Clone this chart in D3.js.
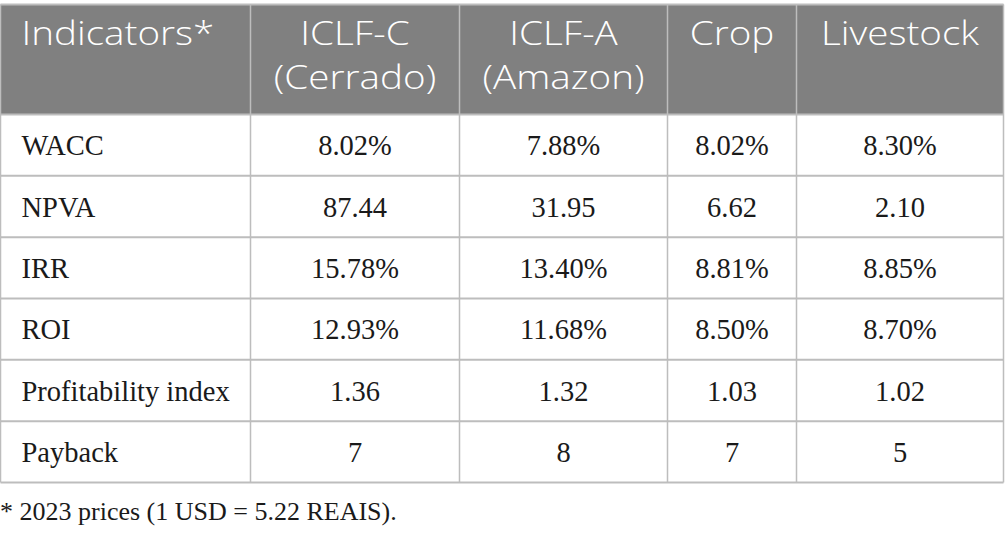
<!DOCTYPE html>
<html>
<head>
<meta charset="utf-8">
<script src="https://cdn.jsdelivr.net/npm/d3@7"></script>
<style>
  html, body { margin: 0; padding: 0; background: #fff; }
  svg { display: block; }
  .serif { font-family: "Liberation Serif", "DejaVu Serif", serif; }
  .sans { font-family: "Open Sans", "Noto Sans", sans-serif; font-weight: 300; }
</style>
</head>
<body>
<div id="chart"></div>
<script>
// table content
var headers = [["Indicators*"], ["ICLF-C", "(Cerrado)"], ["ICLF-A", "(Amazon)"], ["Crop"], ["Livestock"]];
var indicators = ["WACC", "NPVA", "IRR", "ROI", "Profitability index", "Payback"];
var iclfC = ["8.02%", "87.44", "15.78%", "12.93%", "1.36", "7"];
var iclfA = ["7.88%", "31.95", "13.40%", "11.68%", "1.32", "8"];
var crop = ["8.02%", "6.62", "8.81%", "8.50%", "1.03", "7"];
var livestock = ["8.30%", "2.10", "8.85%", "8.70%", "1.02", "5"];
var footnote = "* 2023 prices (1 USD = 5.22 REAIS).";

var series = [iclfC, iclfA, crop, livestock];

var W = 1005, H = 537;
var svg = d3.select("#chart").append("svg")
  .attr("width", W).attr("height", H);

// column edges (px) and row layout
var colEdges = [0.5, 250.5, 459.5, 667.5, 796.5, 1003.5];
var tableTop = 4.5, headBottom = 114.5, tableBottom = 482.5;

var rowScale = d3.scaleBand()
  .domain(indicators)
  .range([headBottom, tableBottom]);

var lineColor = "#bdbdbd";
var headFill = "#808080";

// header background
svg.append("rect")
  .attr("x", colEdges[0]).attr("y", tableTop)
  .attr("width", colEdges[5] - colEdges[0])
  .attr("height", headBottom - tableTop)
  .attr("fill", headFill);

// header text (the original face is wider than Open Sans, so stretch a bit)
var stretch = 1.17;
headers.forEach(function(h, i) {
  var x0 = colEdges[i], x1 = colEdges[i + 1];
  var ax = i == 0 ? x0 + 21 : (x0 + x1) / 2;
  var t = svg.append("text")
    .attr("class", "sans")
    .attr("font-size", "33px")
    .attr("fill", "#ffffff")
    .attr("text-anchor", i == 0 ? "start" : "middle")
    .attr("transform", "translate(" + ax + ",0) scale(" + stretch + ",1)");
  h.forEach(function(line, j) {
    t.append("tspan")
      .attr("x", 0)
      .attr("y", 45 + j * 44)
      .text(line);
  });
});

// horizontal lines
var hLines = [tableTop, headBottom].concat(indicators.map(function(d) { return rowScale(d) + rowScale.bandwidth(); }));
svg.selectAll(".hline")
  .data(hLines)
  .enter()
  .append("line")
  .attr("class", "hline")
  .attr("x1", colEdges[0]).attr("x2", colEdges[5])
  .attr("y1", function(d) { return d; })
  .attr("y2", function(d) { return d; })
  .attr("stroke", lineColor)
  .attr("stroke-width", 2);

// vertical lines
svg.selectAll(".vline")
  .data(colEdges)
  .enter()
  .append("line")
  .attr("class", "vline")
  .attr("x1", function(d) { return d; })
  .attr("x2", function(d) { return d; })
  .attr("y1", tableTop).attr("y2", tableBottom)
  .attr("stroke", lineColor)
  .attr("stroke-width", 1.5);

// first column
svg.selectAll(".ind")
  .data(indicators)
  .enter()
  .append("text")
  .attr("class", "ind serif")
  .attr("x", colEdges[0] + 21)
  .attr("y", function(d) { return rowScale(d) + rowScale.bandwidth() / 2 + 10; })
  .attr("font-size", "28.5px")
  .attr("fill", "#1a1a1a")
  .text(function(d) { return d; });

// value columns
series.forEach(function(vals, c) {
  var cx = (colEdges[c + 1] + colEdges[c + 2]) / 2;
  svg.selectAll(".val" + c)
    .data(vals)
    .enter()
    .append("text")
    .attr("class", "val" + c + " serif")
    .attr("x", cx)
    .attr("y", function(d, i) { return rowScale(indicators[i]) + rowScale.bandwidth() / 2 + 10; })
    .attr("text-anchor", "middle")
    .attr("font-size", "28.5px")
    .attr("fill", "#1a1a1a")
    .text(function(d) { return d; });
});

// footnote
svg.append("text")
  .attr("class", "serif")
  .attr("x", 0)
  .attr("y", 520)
  .attr("font-size", "26px")
  .attr("fill", "#1a1a1a")
  .text(footnote);
</script>
</body>
</html>
